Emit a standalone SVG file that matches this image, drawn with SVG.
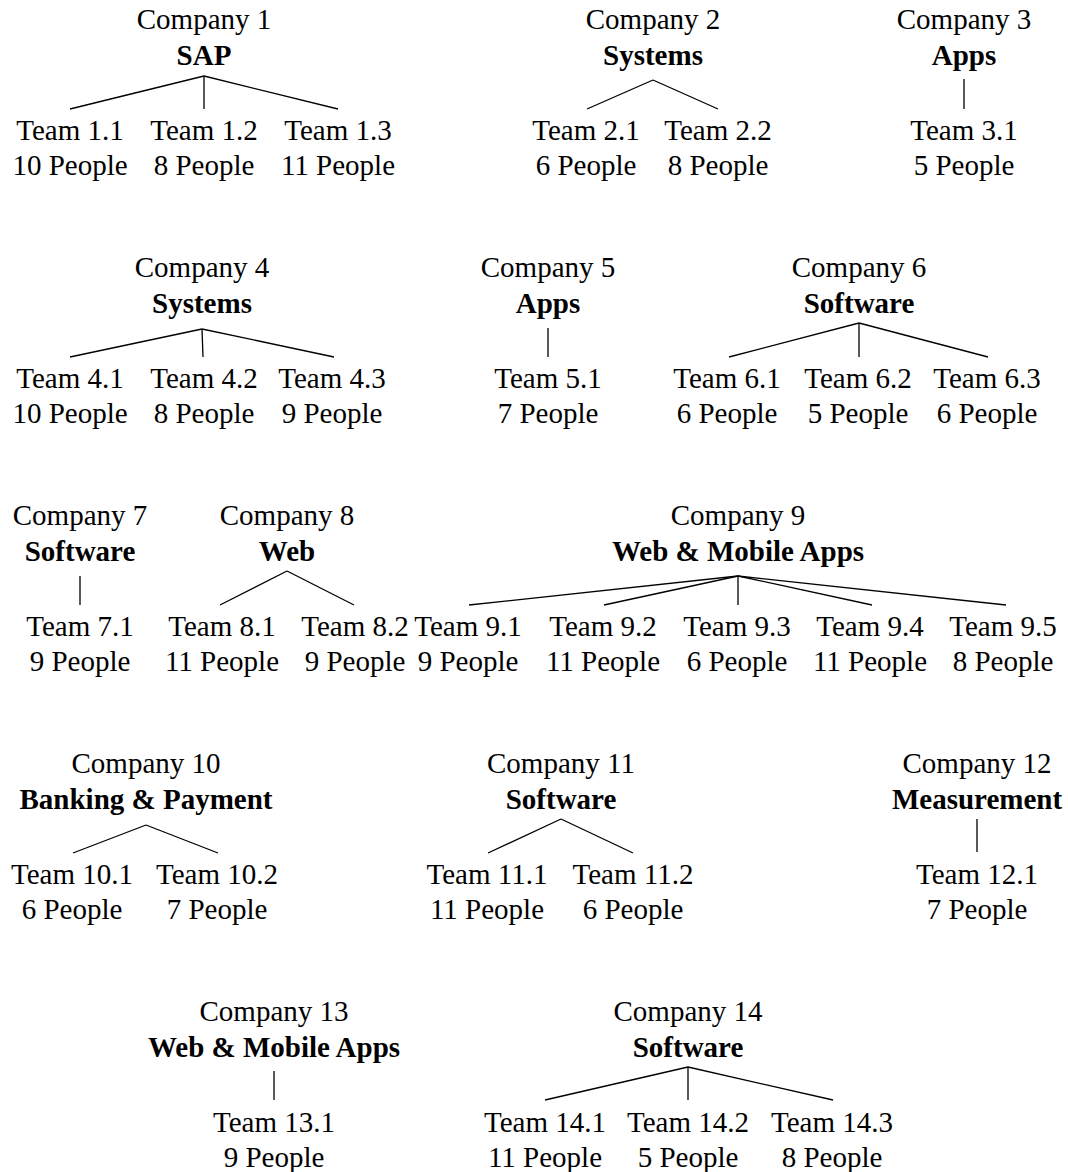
<svg xmlns="http://www.w3.org/2000/svg" width="1068" height="1172" viewBox="0 0 1068 1172">
<style>
text{font-family:"Liberation Serif","Times New Roman",serif;font-size:29px;text-anchor:middle;fill:#000}
.b{font-weight:bold}
.e line{stroke:#000;stroke-width:1.3}
</style>
<rect width="1068" height="1172" fill="#fff"/>
<g class="e" id="connectors">
<line x1="204" y1="76" x2="70" y2="109"/><line x1="204" y1="76" x2="204" y2="109"/><line x1="204" y1="76" x2="338" y2="109"/>
<line x1="653" y1="80" x2="587" y2="109"/><line x1="653" y1="80" x2="718" y2="109"/>
<line x1="964" y1="79" x2="964" y2="109"/>
<line x1="202" y1="329" x2="70" y2="357"/><line x1="202" y1="329" x2="203" y2="357"/><line x1="202" y1="329" x2="334" y2="357"/>
<line x1="548" y1="328" x2="548" y2="357"/>
<line x1="859" y1="323" x2="729" y2="357"/><line x1="859" y1="323" x2="859" y2="357"/><line x1="859" y1="323" x2="988" y2="357"/>
<line x1="80" y1="576" x2="80" y2="605"/>
<line x1="287" y1="571" x2="220" y2="605"/><line x1="287" y1="571" x2="354" y2="605"/>
<line x1="738" y1="576" x2="469" y2="605"/><line x1="738" y1="576" x2="604" y2="605"/><line x1="738" y1="576" x2="738" y2="605"/><line x1="738" y1="576" x2="872" y2="605"/><line x1="738" y1="576" x2="1006" y2="605"/>
<line x1="146" y1="825" x2="73" y2="853"/><line x1="146" y1="825" x2="218" y2="853"/>
<line x1="561" y1="819" x2="488" y2="853"/><line x1="561" y1="819" x2="633" y2="853"/>
<line x1="977" y1="819" x2="977" y2="852"/>
<line x1="274" y1="1071" x2="274" y2="1100"/>
<line x1="688" y1="1067" x2="545" y2="1100"/><line x1="688" y1="1067" x2="688" y2="1100"/><line x1="688" y1="1067" x2="833" y2="1100"/>
</g>
<g id="c1"><text x="204" y="29">Company 1</text><text class="b" x="204" y="65">SAP</text></g>
<g id="t1_1"><text x="70" y="140">Team 1.1</text><text x="70" y="175">10 People</text></g>
<g id="t1_2"><text x="204" y="140">Team 1.2</text><text x="204" y="175">8 People</text></g>
<g id="t1_3"><text x="338" y="140">Team 1.3</text><text x="338" y="175">11 People</text></g>
<g id="c2"><text x="653" y="29">Company 2</text><text class="b" x="653" y="65">Systems</text></g>
<g id="t2_1"><text x="586" y="140">Team 2.1</text><text x="586" y="175">6 People</text></g>
<g id="t2_2"><text x="718" y="140">Team 2.2</text><text x="718" y="175">8 People</text></g>
<g id="c3"><text x="964" y="29">Company 3</text><text class="b" x="964" y="65">Apps</text></g>
<g id="t3_1"><text x="964" y="140">Team 3.1</text><text x="964" y="175">5 People</text></g>
<g id="c4"><text x="202" y="277">Company 4</text><text class="b" x="202" y="313">Systems</text></g>
<g id="t4_1"><text x="70" y="388">Team 4.1</text><text x="70" y="423">10 People</text></g>
<g id="t4_2"><text x="204" y="388">Team 4.2</text><text x="204" y="423">8 People</text></g>
<g id="t4_3"><text x="332" y="388">Team 4.3</text><text x="332" y="423">9 People</text></g>
<g id="c5"><text x="548" y="277">Company 5</text><text class="b" x="548" y="313">Apps</text></g>
<g id="t5_1"><text x="548" y="388">Team 5.1</text><text x="548" y="423">7 People</text></g>
<g id="c6"><text x="859" y="277">Company 6</text><text class="b" x="859" y="313">Software</text></g>
<g id="t6_1"><text x="727" y="388">Team 6.1</text><text x="727" y="423">6 People</text></g>
<g id="t6_2"><text x="858" y="388">Team 6.2</text><text x="858" y="423">5 People</text></g>
<g id="t6_3"><text x="987" y="388">Team 6.3</text><text x="987" y="423">6 People</text></g>
<g id="c7"><text x="80" y="525">Company 7</text><text class="b" x="80" y="561">Software</text></g>
<g id="t7_1"><text x="80" y="636">Team 7.1</text><text x="80" y="671">9 People</text></g>
<g id="c8"><text x="287" y="525">Company 8</text><text class="b" x="287" y="561">Web</text></g>
<g id="t8_1"><text x="222" y="636">Team 8.1</text><text x="222" y="671">11 People</text></g>
<g id="t8_2"><text x="355" y="636">Team 8.2</text><text x="355" y="671">9 People</text></g>
<g id="c9"><text x="738" y="525">Company 9</text><text class="b" x="738" y="561">Web &amp; Mobile Apps</text></g>
<g id="t9_1"><text x="468" y="636">Team 9.1</text><text x="468" y="671">9 People</text></g>
<g id="t9_2"><text x="603" y="636">Team 9.2</text><text x="603" y="671">11 People</text></g>
<g id="t9_3"><text x="737" y="636">Team 9.3</text><text x="737" y="671">6 People</text></g>
<g id="t9_4"><text x="870" y="636">Team 9.4</text><text x="870" y="671">11 People</text></g>
<g id="t9_5"><text x="1003" y="636">Team 9.5</text><text x="1003" y="671">8 People</text></g>
<g id="c10"><text x="146" y="773">Company 10</text><text class="b" x="146" y="809">Banking &amp; Payment</text></g>
<g id="t10_1"><text x="72" y="884">Team 10.1</text><text x="72" y="919">6 People</text></g>
<g id="t10_2"><text x="217" y="884">Team 10.2</text><text x="217" y="919">7 People</text></g>
<g id="c11"><text x="561" y="773">Company 11</text><text class="b" x="561" y="809">Software</text></g>
<g id="t11_1"><text x="487" y="884">Team 11.1</text><text x="487" y="919">11 People</text></g>
<g id="t11_2"><text x="633" y="884">Team 11.2</text><text x="633" y="919">6 People</text></g>
<g id="c12"><text x="977" y="773">Company 12</text><text class="b" x="977" y="809">Measurement</text></g>
<g id="t12_1"><text x="977" y="884">Team 12.1</text><text x="977" y="919">7 People</text></g>
<g id="c13"><text x="274" y="1021">Company 13</text><text class="b" x="274" y="1057">Web &amp; Mobile Apps</text></g>
<g id="t13_1"><text x="274" y="1132">Team 13.1</text><text x="274" y="1167">9 People</text></g>
<g id="c14"><text x="688" y="1021">Company 14</text><text class="b" x="688" y="1057">Software</text></g>
<g id="t14_1"><text x="545" y="1132">Team 14.1</text><text x="545" y="1167">11 People</text></g>
<g id="t14_2"><text x="688" y="1132">Team 14.2</text><text x="688" y="1167">5 People</text></g>
<g id="t14_3"><text x="832" y="1132">Team 14.3</text><text x="832" y="1167">8 People</text></g>
</svg>
